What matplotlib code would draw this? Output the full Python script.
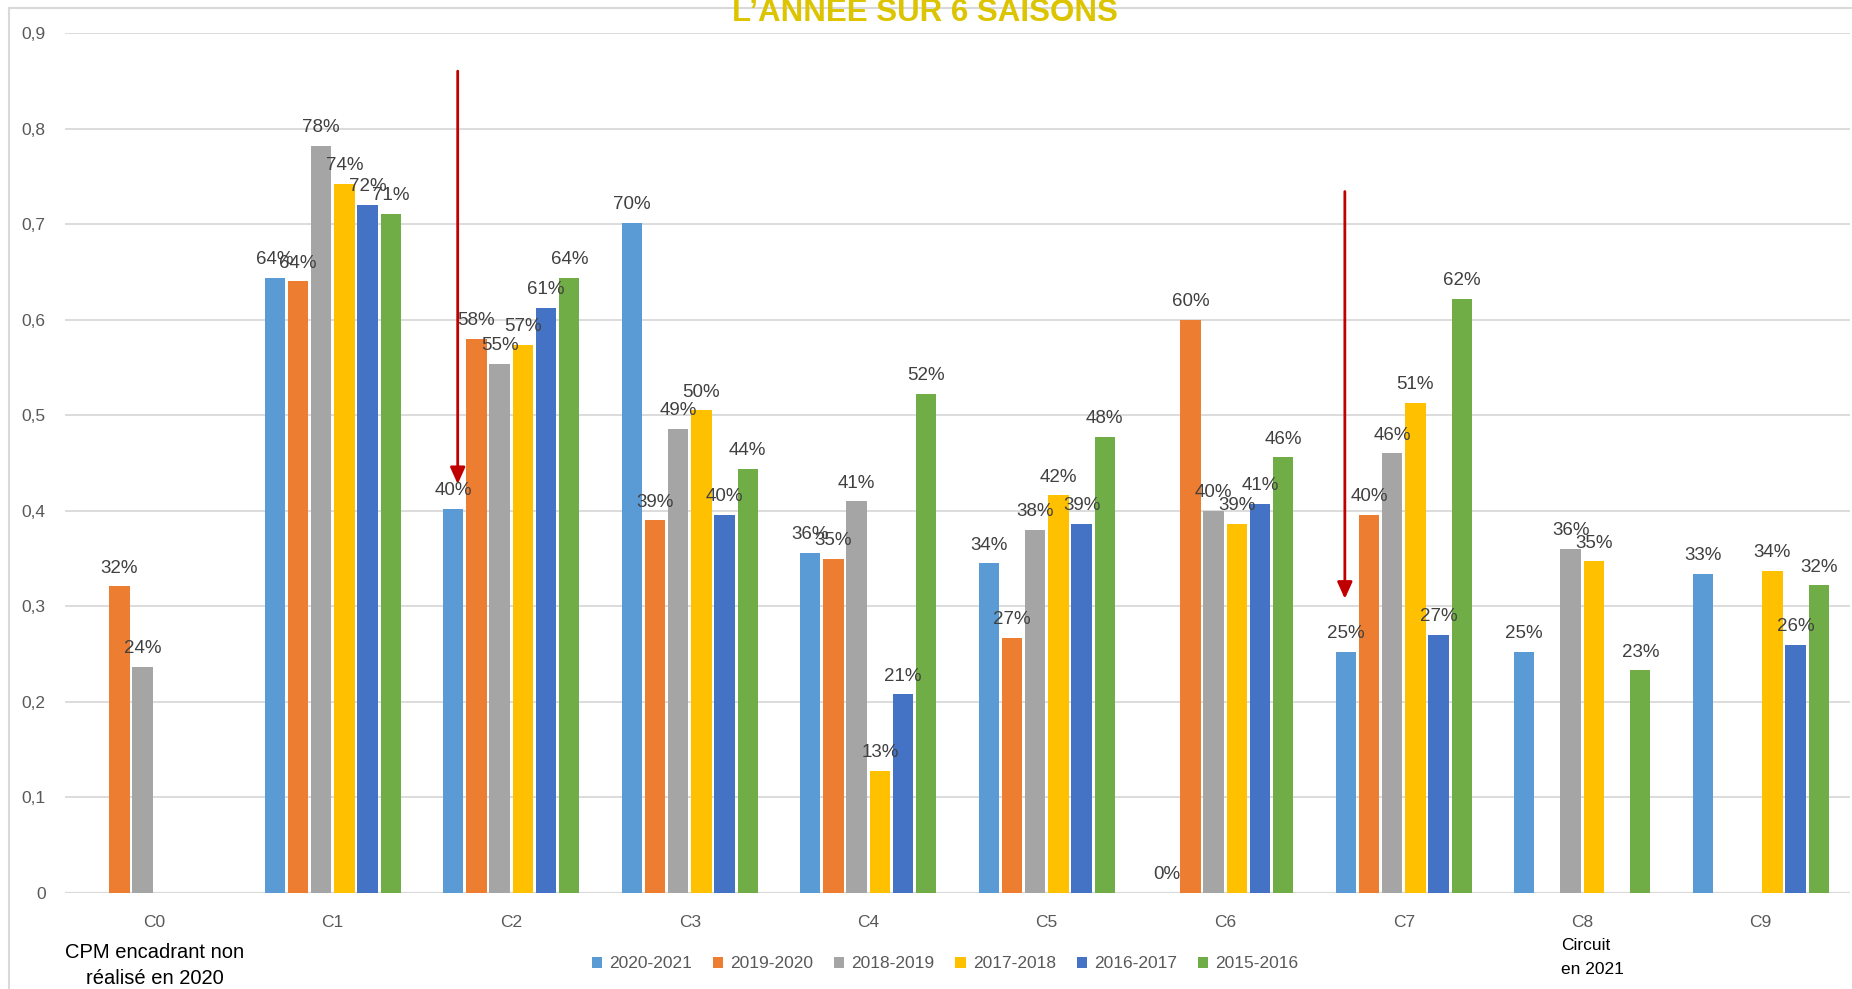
import numpy as np
import matplotlib
matplotlib.use('Agg')
import matplotlib.pyplot as plt
from matplotlib.lines import Line2D
from matplotlib.ticker import FuncFormatter

plt.rcParams['font.family'] = ['Liberation Sans', 'DejaVu Sans']

# data
categories = ['C0', 'C1', 'C2', 'C3', 'C4', 'C5', 'C6', 'C7', 'C8', 'C9']
seasons = ['2020-2021', '2019-2020', '2018-2019', '2017-2018', '2016-2017', '2015-2016']
colors = ['#5B9BD5', '#ED7D31', '#A5A5A5', '#FFC000', '#4472C4', '#70AD47']
nan = np.nan
s2020_2021 = [nan, 0.644, 0.402, 0.701, 0.356, 0.345, 0.0, 0.252, 0.252, 0.334]
s2019_2020 = [0.321, 0.640, 0.580, 0.390, 0.350, 0.267, 0.600, 0.396, nan, nan]
s2018_2019 = [0.237, 0.782, 0.554, 0.486, 0.410, 0.380, 0.400, 0.460, 0.360, nan]
s2017_2018 = [nan, 0.742, 0.574, 0.505, 0.128, 0.416, 0.386, 0.513, 0.347, 0.337]
s2016_2017 = [nan, 0.720, 0.612, 0.396, 0.208, 0.386, 0.407, 0.270, nan, 0.260]
s2015_2016 = [nan, 0.711, 0.644, 0.444, 0.522, 0.477, 0.456, 0.622, 0.233, 0.322]
series = [s2020_2021, s2019_2020, s2018_2019, s2017_2018, s2016_2017, s2015_2016]

# red arrows (x in category units, y start -> y end)
arrows = [(1.70, 0.863, 0.425), (6.67, 0.737, 0.305)]

W, H = 1852, 989
fig = plt.figure(figsize=(W / 100, H / 100), dpi=100)
ax = fig.add_axes([65 / W, 96 / H, (1850 - 65) / W, (893 - 33) / H])

x = np.arange(len(categories))
slot = 0.13
for i, (vals, col, name) in enumerate(zip(series, colors, seasons)):
    pos = x + (i - 2.5) * slot
    v = np.array(vals, dtype=float)
    ax.bar(pos, v, width=slot * 0.88, color=col, label=name, zorder=3)
    for xp, val in zip(pos, v):
        if not np.isnan(val):
            ax.annotate('{:.0%}'.format(val), (xp, val), xytext=(0, 7),
                        textcoords='offset points', ha='center', va='bottom',
                        fontsize=13.5, color='#404040', zorder=5)

for xa, y0, y1 in arrows:
    ax.annotate('', xy=(xa, y1), xytext=(xa, y0),
                arrowprops=dict(arrowstyle='-|>,head_width=0.45,head_length=1.0',
                                color='#C00000', lw=2), zorder=6)

ax.set_xlim(-0.5, len(categories) - 0.5)
ax.set_ylim(0, 0.9)
ax.set_yticks(np.arange(0, 0.91, 0.1))
ax.yaxis.set_major_formatter(FuncFormatter(lambda v, p: '0' if v == 0 else ('%.1f' % v).replace('.', ',')))
ax.set_xticks(x)
ax.set_xticklabels(categories)
ax.tick_params(axis='both', length=0, labelsize=12.5, colors='#595959')
ax.tick_params(axis='x', pad=16)
ax.tick_params(axis='y', pad=14)
ax.grid(axis='y', color='#D9D9D9', lw=1.3, zorder=0)
for sp in ax.spines.values():
    sp.set_visible(False)
ax.axhline(0, color='#D9D9D9', lw=1.6, zorder=2)

ax.legend(loc='center', bbox_to_anchor=(945 / W, 1 - 964 / H), bbox_transform=fig.transFigure,
          ncol=6, frameon=False, fontsize=12.5, labelcolor='#595959',
          handlelength=0.6, handleheight=0.6, handletextpad=0.4, columnspacing=1.2)

# chart area border
fig.add_artist(Line2D([9 / W, 9 / W], [0, 1 - 8 / H], color='#D9D9D9', lw=1.5))
fig.add_artist(Line2D([9 / W, 1], [1 - 8 / H, 1 - 8 / H], color='#D9D9D9', lw=1.5))

fig.text(925 / W, 1 - 21 / H, 'L’ANNÉE SUR 6 SAISONS', ha='center', va='baseline',
         fontsize=22.5, fontweight='bold', color='#DCC500', zorder=10)

fig.text(155 / W, 1 - 952 / H, 'CPM encadrant non', ha='center', va='center', fontsize=14.5, color='black')
fig.text(155 / W, 1 - 978 / H, 'réalisé en 2020', ha='center', va='center', fontsize=14.5, color='black')
fig.text(1561 / W, 1 - 945 / H, 'Circuit', ha='left', va='center', fontsize=12.5, color='black')
fig.text(1561 / W, 1 - 969 / H, 'en 2021', ha='left', va='center', fontsize=12.5, color='black')

fig.savefig('out.png', dpi=100)
